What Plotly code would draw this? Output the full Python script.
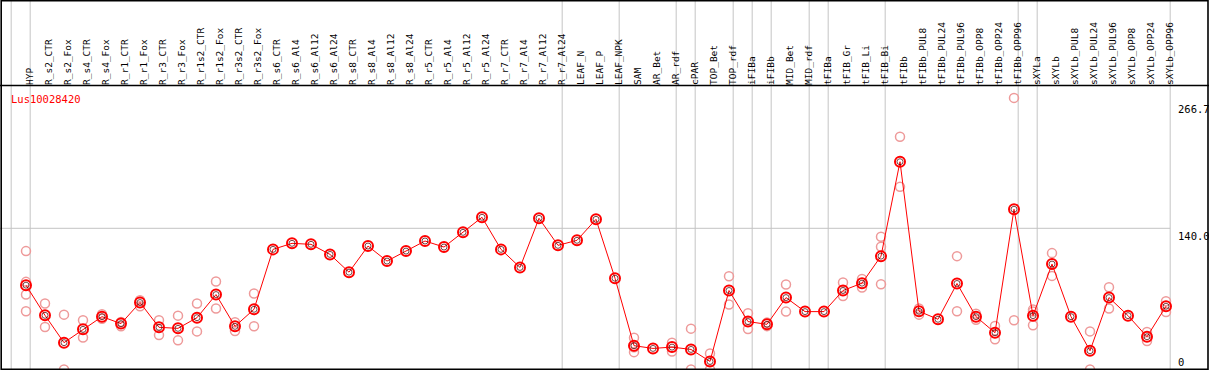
import plotly.graph_objects as go

# ---------------- data ----------------
categories = [
    "HYP", "R_s2_CTR", "R_s2_Fox", "R_s4_CTR", "R_s4_Fox", "R_r1_CTR", "R_r1_Fox",
    "R_r3_CTR", "R_r3_Fox", "R_r1s2_CTR", "R_r1s2_Fox", "R_r3s2_CTR", "R_r3s2_Fox",
    "R_s6_CTR", "R_s6_Al4", "R_s6_Al12", "R_s6_Al24", "R_s8_CTR", "R_s8_Al4",
    "R_s8_Al12", "R_s8_Al24", "R_r5_CTR", "R_r5_Al4", "R_r5_Al12", "R_r5_Al24",
    "R_r7_CTR", "R_r7_Al4", "R_r7_Al12", "R_r7_Al24", "LEAF_N", "LEAF_P", "LEAF_NPK",
    "SAM", "AR_Bet", "AR_rdf", "cPAR", "TOP_Bet", "TOP_rdf", "iFIBa", "iFIBb",
    "MID_Bet", "MID_rdf", "tFIBa", "tFIB_Gr", "tFIB_Li", "tFIB_Bi", "tFIBb",
    "tFIBb_PUL8", "tFIBb_PUL24", "tFIBb_PUL96", "tFIBb_OPP8", "tFIBb_OPP24",
    "tFIBb_OPP96", "sXYLa", "sXYLb", "sXYLb_PUL8", "sXYLb_PUL24", "sXYLb_PUL96",
    "sXYLb_OPP8", "sXYLb_OPP24", "sXYLb_OPP96",
]

mean_values = [
    83.6, 53.7, 26.6, 39.8, 52.4, 45.5, 66.4, 41.8, 40.8, 51.4, 74.3, 42.8, 59.7,
    119.1, 125.1, 124.1, 114.1, 96.5, 122.4, 107.5, 117.4, 127.4, 121.4, 136.0, 150.9,
    119.1, 101.2, 149.9, 123.1, 128.1, 148.9, 90.5,
    23.6, 20.9, 22.2, 19.9, 8.0, 78.3, 47.5, 44.8, 71.3, 57.4, 57.4, 78.3, 85.6, 112.4,
    206.0, 57.7, 49.8, 85.3, 52.4, 36.5, 158.9, 53.4, 104.5, 52.4, 18.6, 71.3, 53.4,
    32.5, 62.7,
]

replicates = [
    [117.4, 86.9, 74.3, 57.7], [65.4, 42.1], [54.4, 0.0], [48.8, 31.8], [54.7, 50.4],
    [47.1, 42.8], [68.7, 62.7], [48.8, 34.1], [53.4, 28.9], [65.4, 37.8], [87.3, 60.4],
    [46.8, 38.1], [75.3, 42.8],
    [], [], [], [], [], [], [], [], [], [], [], [], [], [], [], [], [], [], [],
    [31.5, 22.0, 17.2], [], [26.6, 17.9], [40.5, 0.0], [15.9, 0.0], [92.5, 64.4],
    [55.7, 40.1], [46.5, 43.0], [84.3, 57.4], [], [], [86.3, 72.9], [89.8, 81.3],
    [131.6, 121.7, 84.6], [230.8, 181.1], [60.4, 54.4], [], [112.4, 57.7],
    [55.4, 49.4], [43.1, 29.9], [269.3, 48.8], [59.4, 57.4, 43.8], [115.4, 92.8],
    [], [37.8, 0.0], [81.6, 60.4], [], [37.1, 28.2], [67.7, 57.0],
]

# group separators are drawn just after these categories ("" = before the first)
separator_after = ["", "HYP", "R_r7_Al24", "LEAF_NPK", "AR_rdf", "cPAR", "TOP_rdf",
                   "iFIBa", "iFIBb", "MID_rdf", "tFIBa", "tFIB_Bi", "tFIBb_OPP96",
                   "sXYLa", "sXYLb_OPP96"]

y_tick_values = [266.7, 140.0, 0.0]
y_tick_labels = ["266.7", "140.0", "0"]
gene_name = "Lus10028420"

# ---------------- layout geometry ----------------
W, H = 1209, 370
plot_top_px = 86
x_idx = list(range(len(categories)))
x_range = [-26.0 / 19, (W - 26.0) / 19]
label_shift = 4.0 / 19          # tick labels sit a few px right of the mark
px_per_unit = 1.00857
y_bottom = -0.5 / px_per_unit
y_top = y_bottom + (H - plot_top_px) / px_per_unit

MONO = "DejaVu Sans Mono"
fig = go.Figure()

rx, ry = [], []
for i, reps in enumerate(replicates):
    for v in reps:
        rx.append(i)
        ry.append(v)

fig.add_trace(go.Scatter(
    x=rx, y=ry, mode="markers",
    marker=dict(symbol="circle-open", size=9, color="#ee9a9a", line=dict(width=1.5)),
    hoverinfo="skip", showlegend=False,
))

fig.add_trace(go.Scatter(
    x=x_idx, y=mean_values, mode="lines+markers",
    line=dict(color="#ff0000", width=1),
    marker=dict(symbol="circle-open", size=10, color="#ff0000", line=dict(width=2)),
    showlegend=False,
))
fig.add_trace(go.Scatter(
    x=x_idx, y=mean_values, mode="markers",
    marker=dict(symbol="circle-open", size=6, color="rgba(60,0,0,0.7)", line=dict(width=1)),
    hoverinfo="skip", showlegend=False,
))

shapes = []
sep_off = 0.22
for name in separator_after:
    pos = (categories.index(name) if name else -1) + sep_off
    shapes.append(dict(type="line", xref="x", yref="paper", x0=pos, x1=pos, y0=0, y1=1,
                       line=dict(color="#c4c4c4", width=1), layer="below"))
last_sep = len(categories) - 1 + sep_off
shapes.append(dict(type="line", xref="x", yref="y", x0=x_range[0], x1=last_sep,
                   y0=y_tick_values[1], y1=y_tick_values[1],
                   line=dict(color="#c4c4c4", width=1), layer="below"))
# frame lines
hdr = 1 - (plot_top_px - 0.5) / H
shapes += [
    dict(type="line", xref="paper", yref="paper", x0=0, x1=1, y0=hdr, y1=hdr,
         line=dict(color="black", width=1.5)),
    dict(type="rect", xref="paper", yref="paper", x0=1.2 / W, x1=1 - 1.0 / W,
         y0=0.8 / H, y1=1 - 0.8 / H, line=dict(color="black", width=1.6)),
]

annotations = [dict(text=gene_name, xref="paper", yref="paper", x=9 / W, y=1 - 91 / H,
                    xanchor="left", yanchor="top", showarrow=False,
                    font=dict(family=MONO, size=10.5, color="#ff0000"))]
for v, t in zip(y_tick_values, y_tick_labels):
    annotations.append(dict(text=t, xref="paper", yref="y", x=1176 / W, y=v,
                            xanchor="left", yanchor="top" if v > 0 else "bottom",
                            showarrow=False,
                            font=dict(family=MONO, size=10.5, color="black")))

fig.update_layout(
    width=W, height=H,
    margin=dict(l=0, r=0, t=0, b=0),
    paper_bgcolor="white", plot_bgcolor="white",
    shapes=shapes, annotations=annotations,
    xaxis=dict(range=x_range, side="top", tickmode="array",
               tickvals=[i + label_shift for i in x_idx],
               ticktext=categories, tickangle=-90, ticks="", showgrid=False,
               zeroline=False, showline=False,
               tickfont=dict(family=MONO, size=9.5, color="black")),
    yaxis=dict(range=[y_bottom, y_top], domain=[0, (H - plot_top_px) / H],
               showticklabels=False, showgrid=False, zeroline=False, showline=False),
)

fig.write_html("out.html", config={"displayModeBar": False},
               post_script="document.body.style.margin='0';")
